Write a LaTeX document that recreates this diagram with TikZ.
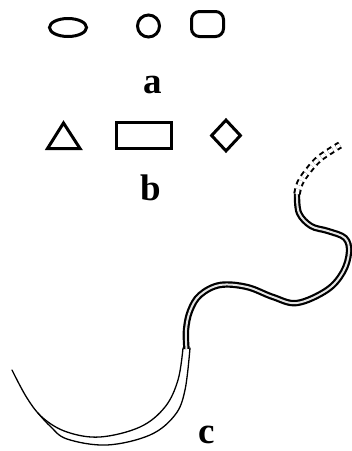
\documentclass[tikz,border=0pt]{standalone}
\usepackage{fontspec}
\setmainfont{Liberation Serif}
\usetikzlibrary{shapes.geometric}
\begin{document}
\begin{tikzpicture}[x=1pt,y=-1pt,
  shapeline/.style={draw=black,line width=3pt,fill=none},
  lbl/.style={font=\fontsize{37}{37}\selectfont\bfseries,inner sep=0pt,anchor=base},
  needle/.style={draw=black,line width=1.3pt,line cap=round},
  thread/.style={draw=black,line width=2.2pt,double=gray!20,double distance=2pt,line cap=butt},
  threaddash/.style={draw=black,line width=2pt,double=white,double distance=3.5pt,dash pattern=on 5pt off 4pt}]
\useasboundingbox (0,0) rectangle (352,451);
\clip (0,0) rectangle (352,451);
% row a
\node[shapeline,ellipse,minimum width=37pt,minimum height=18pt,inner sep=0pt] (ell) at (68,27.5) {};
\node[shapeline,circle,minimum size=22pt,inner sep=0pt] (circ) at (148.5,26) {};
\node[shapeline,rectangle,rounded corners=8pt,minimum width=32pt,minimum height=25pt,inner sep=0pt] (rrect) at (207.5,24) {};
\node[lbl] (la) at (153,93) {a};
% row b
\coordinate (t1) at (47.5,148.5);
\coordinate (t2) at (80,148.5);
\coordinate (t3) at (63.5,123);
\draw[line width=3pt,line join=miter] (t1) -- (t2) -- (t3) -- cycle;
\node[draw=black,line width=2.8pt,rectangle,minimum width=55pt,minimum height=26pt,inner sep=0pt] (rect) at (144,135.5) {};
\node[shapeline,diamond,minimum width=30pt,minimum height=32pt,inner sep=0pt] (dia) at (226,135.5) {};
\node[lbl] (lb) at (151,200) {b};
% c : needle
\draw[needle] plot[smooth,tension=0.6] coordinates {(12,370) (27,398) (43,418) (67,432) (100,437) (140,427) (165,407) (178,380) (183,348)};
\draw[needle] plot[smooth,tension=0.6] coordinates {(38,413) (50,426) (67,439) (107,445) (150,435) (175,415) (185,390) (190,348)};
% thread
\draw[thread] plot[smooth,tension=0.6] coordinates {(186.5,349) (186,330) (190,311) (200,295) (220,285) (247,287) (273,297) (297,303) (327,290) (343,272) (349,252) (345,238) (328,231) (311,226) (299,213) (297,194)};
\draw[threaddash] plot[smooth,tension=0.6] coordinates {(297,194) (300,183) (308,171) (320,158) (340,145)};
\node[lbl] (lc) at (207,443) {c};
\end{tikzpicture}
\end{document}
